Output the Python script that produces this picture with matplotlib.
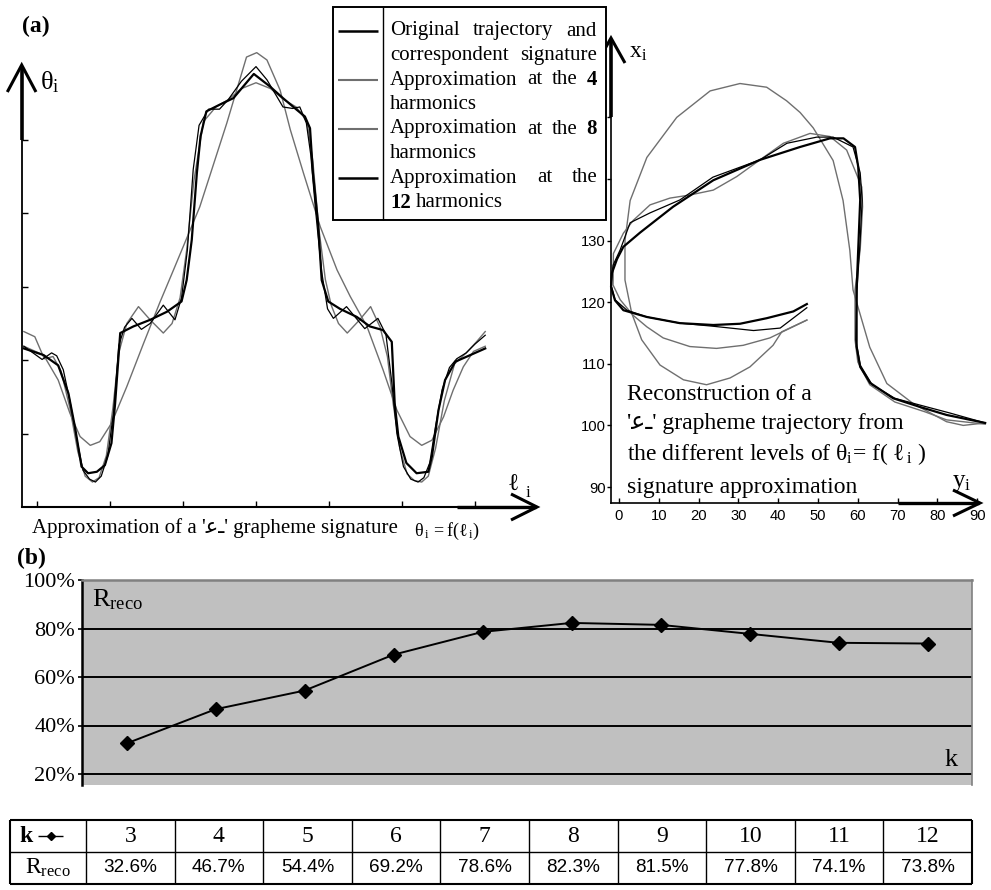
import matplotlib
matplotlib.use("Agg")
import matplotlib.pyplot as plt
from matplotlib import font_manager as fm
from matplotlib.lines import Line2D
from matplotlib.patches import Rectangle

W, H = 991, 890

# ---------------- data ----------------
# (a) left: signature theta_i = f(l_i), one tick = 1 unit on both axes
sig_l_orig = [-0.18, 0.09, 0.29, 0.43, 0.52, 0.61, 0.70, 0.82, 0.93, 1.02,
              1.07, 1.14, 1.32, 1.55, 1.78, 1.98, 2.05, 2.12, 2.19, 2.24,
              2.32, 2.50, 2.69, 2.97, 3.19, 3.37, 3.56, 3.67, 3.74, 3.78,
              3.85, 3.90, 3.99, 4.15, 4.38, 4.56, 4.74, 4.86, 4.90, 4.95,
              5.06, 5.20, 5.36, 5.41, 5.50, 5.59, 5.73, 5.89, 6.14]
sig_t_orig = [2.16, 2.07, 1.93, 1.55, 1.09, 0.55, 0.46, 0.48, 0.57, 0.87,
              1.41, 2.37, 2.46, 2.55, 2.66, 2.80, 3.09, 3.64, 4.55, 5.05,
              5.39, 5.48, 5.57, 5.90, 5.73, 5.57, 5.41, 5.32, 5.16, 4.55,
              3.87, 3.09, 2.80, 2.70, 2.59, 2.46, 2.41, 2.25, 1.41, 0.96,
              0.60, 0.46, 0.48, 0.69, 1.32, 1.73, 1.98, 2.05, 2.16]

sig_l_h4 = [-0.18, 0.09, 0.29, 0.45, 0.59, 0.73, 0.86, 1.02, 1.23, 1.46,
            1.68, 1.87, 2.23, 2.60, 2.87, 3.01, 3.15, 3.33, 3.47, 3.65,
            3.88, 4.11, 4.29, 4.52, 4.74, 4.93, 5.11, 5.27, 5.41, 5.57,
            5.70, 5.84, 5.98, 6.14]
sig_t_h4 = [2.19, 2.07, 1.73, 1.28, 0.96, 0.84, 0.89, 1.14, 1.64, 2.23,
            2.78, 3.23, 4.09, 5.23, 6.13, 6.19, 6.09, 5.68, 5.14, 4.55,
            3.82, 3.23, 2.87, 2.46, 1.87, 1.32, 0.96, 0.84, 0.91, 1.23,
            1.59, 1.91, 2.12, 2.19]

sig_l_h8 = [-0.18, -0.03, 0.10, 0.22, 0.33, 0.45, 0.56, 0.66, 0.76, 0.85,
            0.95, 1.04, 1.12, 1.23, 1.39, 1.55, 1.73, 1.85, 1.96, 2.05,
            2.15, 2.28, 2.45, 2.62, 2.80, 3.00,
            3.20, 3.38, 3.55, 3.70, 3.78, 3.86, 3.95, 4.03, 4.13, 4.25,
            4.42, 4.57, 4.70, 4.80, 4.88, 4.97, 5.07, 5.17, 5.27, 5.36,
            5.46, 5.58, 5.72, 5.88, 6.02, 6.14]
sig_t_h8 = [2.39, 2.32, 2.02, 2.05, 1.85, 1.35, 0.75, 0.42, 0.34, 0.40,
            0.70, 1.35, 2.10, 2.50, 2.73, 2.55, 2.37, 2.50, 2.85, 3.50,
            4.45, 5.25, 5.45, 5.55, 5.70, 5.78,
            5.70, 5.55, 5.45, 5.25, 4.70, 3.80, 3.10, 2.75, 2.50, 2.37,
            2.55, 2.73, 2.45, 2.05, 1.40, 0.80, 0.45, 0.36, 0.34, 0.42,
            0.80, 1.45, 1.95, 2.10, 2.25, 2.39]

sig_l_h12 = [-0.18, 0.07, 0.20, 0.27, 0.36, 0.45, 0.55, 0.63, 0.72, 0.80,
             0.88, 0.97, 1.05, 1.12, 1.20, 1.30, 1.43, 1.55, 1.73, 1.89,
             1.98, 2.06, 2.14, 2.22, 2.35, 2.50, 2.62, 2.80, 3.00,
             3.15, 3.37, 3.50, 3.60, 3.69, 3.75, 3.82, 3.90, 3.98, 4.06,
             4.24, 4.49, 4.67, 4.78, 4.86, 4.93, 5.02, 5.12, 5.22, 5.30,
             5.38, 5.46, 5.55, 5.65, 5.75, 5.88, 6.00, 6.14]
sig_t_h12 = [2.19, 2.01, 2.10, 2.06, 1.87, 1.45, 0.90, 0.50, 0.38, 0.34,
             0.42, 0.70, 1.30, 2.20, 2.45, 2.57, 2.42, 2.50, 2.75, 2.55,
             2.85, 3.50, 4.60, 5.20, 5.42, 5.42, 5.55, 5.80, 6.00,
             5.82, 5.45, 5.43, 5.45, 5.23, 4.80, 4.00, 3.20, 2.70, 2.57,
             2.73, 2.43, 2.57, 2.35, 1.70, 1.00, 0.55, 0.38, 0.34, 0.40,
             0.60, 1.10, 1.60, 1.90, 2.02, 2.10, 2.22, 2.34]

# (a) right: reconstructed trajectories, y_i horizontal, x_i vertical
trj_y_orig = [47.2, 43.8, 37.1, 30.4, 23.7, 15.3, 7.0, 1.1, -1.0, -2.0,
              -1.8, -0.5, 1.1, 5.3, 13.6, 23.7, 35.4, 45.5, 53.0, 56.4,
              59.3, 60.1, 60.6, 59.7, 59.7, 60.6, 63.1, 68.9, 75.6, 82.3, 92.0]
trj_x_orig = [119.7, 118.5, 117.4, 116.5, 116.3, 116.6, 117.6, 118.7, 120.3, 122.5,
              124.7, 127.0, 129.0, 131.3, 135.5, 139.8, 143.1, 145.2, 146.6, 146.6,
              145.2, 142.0, 136.6, 122.0, 112.8, 109.5, 106.9, 104.4, 103.0, 101.7, 100.4]

trj_y_h4 = [47.2, 40.9, 38.7, 32.9, 27.9, 22.0, 16.2, 10.3, 5.7, 3.2,
            1.5, 1.5, 2.8, 7.0, 14.5, 22.9, 30.4, 37.1, 42.1, 45.5,
            48.8, 53.8, 56.3, 58.0, 58.8, 63.0, 67.3, 74.0, 82.3, 86.5, 92.0]
trj_x_h4 = [117.1, 115.2, 113.0, 109.5, 107.7, 106.6, 107.4, 109.8, 113.9, 118.2,
            123.6, 130.0, 136.5, 143.5, 150.0, 154.3, 155.5, 154.9, 152.7, 150.8,
            148.3, 143.0, 136.5, 128.4, 122.0, 112.7, 106.8, 103.5, 100.6, 100.0, 100.4]

trj_y_h8 = [47.2, 37.9, 31.2, 24.5, 17.8, 11.1, 7.0, 3.5, 0.3, -1.5,
            -1.4, 1.1, 3.6, 7.8, 12.8, 17.8, 23.7, 29.6, 35.4, 41.3,
            48.0, 53.0, 57.2, 61.0, 61.2, 60.6, 59.3, 59.3, 60.0, 63.0,
            69.3, 76.9, 82.3, 92.0]
trj_x_h8 = [117.1, 114.2, 113.0, 112.5, 112.8, 114.2, 116.0, 117.9, 120.4, 122.8,
            127.9, 131.2, 133.3, 135.8, 136.9, 137.4, 138.2, 140.4, 143.1, 145.8,
            147.4, 146.9, 144.7, 138.7, 135.5, 128.5, 122.0, 113.9, 110.3, 106.6,
            103.8, 102.2, 100.9, 100.2]

trj_y_h12 = [47.2, 40.5, 33.8, 23.6, 15.3, 7.0, 2.0, -1.0, -2.0, -1.5,
             0.3, 2.8, 7.8, 15.3, 23.6, 35.4, 42.2, 49.7, 53.8, 58.8,
             60.6, 61.1, 60.6, 59.8, 59.5, 60.6, 63.6, 69.3, 75.6, 83.2, 92.0]
trj_x_h12 = [119.1, 115.8, 115.4, 116.1, 116.6, 117.6, 118.7, 120.4, 122.8, 126.0,
             128.5, 132.9, 134.5, 136.6, 140.3, 143.1, 145.8, 146.8, 146.8, 145.2,
             141.0, 136.6, 130.1, 122.0, 113.9, 109.8, 106.6, 104.4, 103.3, 102.0, 100.4]

right_xticks = [0, 10, 20, 30, 40, 50, 60, 70, 80, 90]
right_yticks = [90, 100, 110, 120, 130, 140, 150]
right_ylabels = ['90', '100', '110', '120', '130', '', '']

# (b) recognition rate versus number of harmonics k
k_values = [3, 4, 5, 6, 7, 8, 9, 10, 11, 12]
r_reco = [32.6, 46.7, 54.4, 69.2, 78.6, 82.3, 81.5, 77.8, 74.1, 73.8]
pct_ticks = [20, 40, 60, 80, 100]

GRAY = '#6f6f6f'

# ---------------- fonts ----------------
plt.rcParams['font.family'] = ['Liberation Serif', 'DejaVu Sans']
plt.rcParams['mathtext.fontset'] = 'custom'
plt.rcParams['mathtext.rm'] = 'Liberation Serif'
plt.rcParams['mathtext.it'] = 'Liberation Serif'
plt.rcParams['mathtext.bf'] = 'Liberation Serif:bold'

try:
    fm.findfont('Liberation Sans Narrow', fallback_to_default=False)
    NARROW, narrow_scale = 'Liberation Sans Narrow', 1.0
except ValueError:
    NARROW, narrow_scale = 'Liberation Sans', 0.85

fig = plt.figure(figsize=(W / 100, H / 100), dpi=100)


# helpers working in picture pixels (origin top-left)
def fline(xs, ys, lw=1.0, color='black', z=3, **kw):
    fig.add_artist(Line2D([x / W for x in xs], [1 - y / H for y in ys], lw=lw,
                          color=color, zorder=z, solid_capstyle='butt',
                          solid_joinstyle='miter', **kw))


def ftext(px, py, s, **kw):
    kw.setdefault('va', 'center')
    return fig.text(px / W, 1 - py / H, s, **kw)


def justify(words, x0, x1, py, size, weights=None, z=6):
    weights = weights or ['normal'] * len(words)
    texts = [ftext(x0, py, w, fontsize=size, fontweight=wt, zorder=z)
             for w, wt in zip(words, weights)]
    rend = fig.canvas.get_renderer()
    widths = [t.get_window_extent(rend).width for t in texts]
    gap = (x1 - x0 - sum(widths)) / max(len(words) - 1, 1)
    x = x0
    for t, w in zip(texts, widths):
        t.set_x(x / W)
        x += w + gap


# ---------------- (a) left: signature ----------------
axL = fig.add_axes([21.7 / W, 1 - 507 / H, (537 - 21.7) / W, (507 - 65) / H])
axL.patch.set_visible(False)
axL.set_xlim((21.7 - 37) / 73, (537 - 37) / 73)
axL.set_ylim(0, (507 - 65) / 73.4)
for s in ('top', 'right'):
    axL.spines[s].set_visible(False)
axL.spines['left'].set_linewidth(1.3)
axL.spines['bottom'].set_linewidth(1.5)
axL.set_xticks(range(7))
axL.set_yticks(range(1, 6))
axL.set_xticklabels([])
axL.set_yticklabels([])
axL.tick_params(direction='in', length=4.5, width=1.0)

axL.plot(sig_l_h4, sig_t_h4, color=GRAY, lw=1.0, clip_on=False)
axL.plot(sig_l_h8, sig_t_h8, color=GRAY, lw=1.0, clip_on=False)
axL.plot(sig_l_h12, sig_t_h12, color='black', lw=0.9, clip_on=False)
axL.plot(sig_l_orig, sig_t_orig, color='black', lw=1.6, clip_on=False)

fline([21.7, 21.7], [140, 66], lw=2.6)
fline([7.3, 21.7, 36], [92, 65, 92], lw=2.2)
fline([457, 536], [507, 507], lw=2.4)
fline([511, 537, 511], [494, 507, 520], lw=2.2)
ftext(40, 82, r'$\theta_{\mathrm{i}}$', fontsize=19)
ftext(507, 484, r'$\ell$', fontsize=17)
ftext(526, 493, 'i', fontsize=12)
ftext(22, 26, '(a)', fontsize=17, fontweight='bold')
ftext(32, 528, "Approximation of a 'ﻋـ' grapheme signature", fontsize=15)
ftext(414, 531, r'$\theta_{\,\mathrm{i}}\,=\mathrm{f}(\ell_{\,\mathrm{i}})$', fontsize=13)

# legend box
fig.add_artist(Rectangle((333 / W, 1 - 220 / H), (606 - 333) / W, (220 - 7) / H,
                         transform=fig.transFigure, facecolor='white',
                         edgecolor='black', lw=1.4, zorder=5))
fline([383, 383], [7, 220], lw=1.0, z=6)
fline([338, 378], [31, 31], lw=1.8, z=6)
fline([338, 378], [80, 80], lw=1.5, color=GRAY, z=6)
fline([338, 378], [129, 129], lw=1.5, color=GRAY, z=6)
fline([338, 378], [178, 178], lw=1.8, z=6)
LX0, LX1, LFS = 390, 597, 15
justify(['Original', 'trajectory', 'and'], LX0, LX1, 31, LFS)
justify(['correspondent', 'signature'], LX0, LX1, 55.5, LFS)
justify(['Approximation', 'at', 'the', '4'], LX0, LX1, 80, LFS,
        ['normal', 'normal', 'normal', 'bold'])
ftext(LX0, 104.5, 'harmonics', fontsize=LFS, zorder=6)
justify(['Approximation', 'at', 'the', '8'], LX0, LX1, 129, LFS,
        ['normal', 'normal', 'normal', 'bold'])
ftext(LX0, 153.5, 'harmonics', fontsize=LFS, zorder=6)
justify(['Approximation', 'at', 'the'], LX0, LX1, 178, LFS)
t12 = ftext(LX0, 202.5, '12', fontsize=LFS, fontweight='bold', zorder=6)
w12 = t12.get_window_extent(fig.canvas.get_renderer()).width
ftext(LX0 + w12 + 5, 202.5, 'harmonics', fontsize=LFS, zorder=6)

# ---------------- (a) right: trajectories ----------------
axR = fig.add_axes([611 / W, 1 - 503 / H, (980 - 611) / W, (503 - 38) / H])
axR.patch.set_visible(False)
axR.set_xlim((611 - 619) / 3.98, (980 - 619) / 3.98)
axR.set_ylim(90 + (487 - 503) / 6.16, 90 + (487 - 38) / 6.16)
for s in ('top', 'right'):
    axR.spines[s].set_visible(False)
axR.spines['left'].set_linewidth(1.2)
axR.spines['bottom'].set_linewidth(1.2)
axR.set_xticks(right_xticks)
axR.set_xticklabels([str(v) for v in right_xticks], family=NARROW,
                    fontsize=12.5 * narrow_scale)
axR.set_yticks(right_yticks)
axR.set_yticklabels(right_ylabels, family=NARROW, fontsize=12.5 * narrow_scale)
axR.tick_params(axis='x', direction='in', length=3.5, width=1.0, pad=4)
axR.tick_params(axis='y', direction='out', length=3, width=1.0, pad=1)

axR.plot(trj_y_h4, trj_x_h4, color=GRAY, lw=1.0, clip_on=False)
axR.plot(trj_y_h8, trj_x_h8, color=GRAY, lw=1.0, clip_on=False)
axR.plot(trj_y_h12, trj_x_h12, color='black', lw=0.9, clip_on=False)
axR.plot(trj_y_orig, trj_x_orig, color='black', lw=1.6, clip_on=False)

fline([611, 611], [117, 39], lw=2.6)
fline([597, 611, 625], [63, 38, 63], lw=2.2)
fline([898, 979], [503, 503], lw=2.4)
fline([953, 980, 953], [490, 503, 516], lw=2.2)
ftext(629, 52, r'$\mathrm{x}_{\mathrm{i}}$', fontsize=17)
ftext(952, 483, r'$\mathrm{y}_{\mathrm{i}}$', fontsize=18)

RT = 17
ftext(627, 395, 'Reconstruction of a', fontsize=RT)
ftext(627, 424, "'ﻋـ' grapheme trajectory from", fontsize=RT)
ftext(627, 454, r'the different levels of $\theta_{\mathrm{i}}$= f( $\ell_{\,\mathrm{i}}$ )',
      fontsize=RT)
ftext(627, 487, 'signature approximation', fontsize=RT)

# ---------------- (b) recognition rate ----------------
axB = fig.add_axes([82 / W, 1 - 785 / H, (972 - 82) / W, (785 - 580) / H])
axB.set_facecolor('#c0c0c0')
axB.set_xlim(2.5, 12.5)
axB.set_ylim(100 - (785 - 580) / 2.425, 100)
axB.spines['bottom'].set_visible(False)
axB.spines['left'].set_linewidth(1.8)
axB.spines['top'].set_color('#808080')
axB.spines['top'].set_linewidth(1.8)
axB.spines['right'].set_color('#808080')
axB.spines['right'].set_linewidth(1.2)
axB.set_xticks([])
axB.set_yticks(pct_ticks)
axB.set_yticklabels([f'{v}%' for v in pct_ticks], fontsize=16)
axB.tick_params(axis='y', direction='out', length=3, width=1.2, pad=2)
for v in pct_ticks[:-1]:
    axB.axhline(v, color='black', lw=1.4, zorder=1)
axB.plot(k_values, r_reco, color='black', lw=1.4, marker='D', ms=7.5,
         mfc='black', mec='black', zorder=3)
ftext(92, 600, r'$\mathrm{R}_{\mathrm{reco}}$', fontsize=19)
ftext(945, 760, 'k', fontsize=19)
ftext(17, 558, '(b)', fontsize=17, fontweight='bold')

# ---------------- table ----------------
TX0, TX1, TC = 10, 972, 86
col_w = (TX1 - TC) / len(k_values)
edges = [TX0, TC] + [TC + col_w * (i + 1) for i in range(len(k_values))]
rows = [820, 852, 884]
for y in rows:
    fline([TX0, TX1], [y, y], lw=1.5 if y != rows[1] else 1.0)
for i, x in enumerate(edges):
    fline([x, x], [rows[0], rows[-1]], lw=1.5 if i in (0, len(edges) - 1) else 1.0)
ftext(19, 836, 'k', fontsize=17, fontweight='bold')
fline([38, 63], [836, 836], lw=1.0)
fig.add_artist(Line2D([50.5 / W], [1 - 836 / H], marker='D', ms=4, color='black',
                      transform=fig.transFigure, zorder=4))
ftext((TX0 + TC) / 2, 868, r'$\mathrm{R}_{\mathrm{reco}}$', fontsize=17, ha='center')
for i, (k, r) in enumerate(zip(k_values, r_reco)):
    cx = TC + col_w * (i + 0.5)
    ftext(cx, 836, str(k), fontsize=17, ha='center')
    ftext(cx, 868, f'{r:.1f}%', fontsize=16 * narrow_scale, family=NARROW, ha='center')

fig.savefig('out.png', dpi=100)
